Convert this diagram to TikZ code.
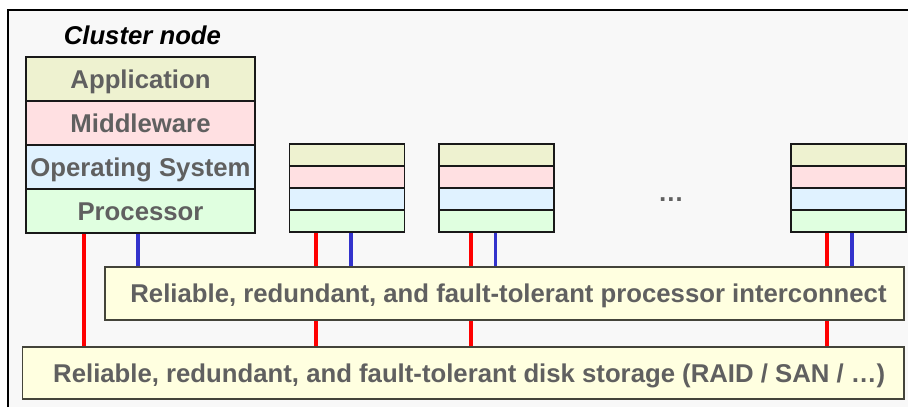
\documentclass[tikz,border=0pt]{standalone}
\usepackage{fontspec}
\setmainfont{Liberation Sans}
\usetikzlibrary{positioning,backgrounds}
\definecolor{appfill}{HTML}{EEF2D0}
\definecolor{midfill}{HTML}{FFE0E2}
\definecolor{osfill}{HTML}{E0F2FF}
\definecolor{cpufill}{HTML}{E0FFE0}
\definecolor{busfill}{HTML}{FFFFE0}
\definecolor{busline}{HTML}{44443A}
\definecolor{bgfill}{HTML}{F8F8F8}
\definecolor{txtgray}{HTML}{606060}
\definecolor{wireblue}{HTML}{3333CC}

\begin{document}
\begin{tikzpicture}[
    layer/.style={draw=black!90, line width=0.9pt, inner sep=0pt, outer sep=0pt, font=\fontsize{18.3}{21}\selectfont\bfseries, text=txtgray, text height=13.1pt, text depth=0pt},
    biglayer/.style={layer, minimum width=5.725cm, minimum height=1.1cm},
    smalllayer/.style={layer, minimum width=2.875cm, minimum height=0.55cm},
    bus/.style={draw=busline, fill=busfill, line width=0.9pt, inner sep=0pt, outer sep=0pt, font=\fontsize{18.3}{21}\selectfont\bfseries, text=txtgray, text height=13.1pt, text depth=0pt},
    redwire/.style={red, line width=2.2pt},
    bluewire/.style={wireblue, line width=2.2pt},
]
\useasboundingbox (0,0) rectangle (22.7,-10.175);

% Cluster node (full stack)
\node[font=\fontsize{18.3}{21}\selectfont\bfseries\itshape, text height=13.1pt, text depth=0pt] (title) at (3.56,-0.88) {Cluster node};
\node[biglayer, fill=appfill, anchor=north] (app1) at (3.5125,-1.425) {Application};
\node[biglayer, fill=midfill, below=0pt of app1] (mid1) {Middleware};
\node[biglayer, fill=osfill, below=0pt of mid1] (os1) {Operating System};
\node[biglayer, fill=cpufill, below=0pt of os1] (cpu1) {Processor};

% Other nodes
\node[smalllayer, fill=appfill, anchor=north] (app2) at (8.675,-3.6) {};
\node[smalllayer, fill=midfill, below=0pt of app2] (mid2) {};
\node[smalllayer, fill=osfill, below=0pt of mid2] (os2) {};
\node[smalllayer, fill=cpufill, below=0pt of os2] (cpu2) {};

\node[smalllayer, fill=appfill, anchor=north] (app3) at (12.4125,-3.6) {};
\node[smalllayer, fill=midfill, below=0pt of app3] (mid3) {};
\node[smalllayer, fill=osfill, below=0pt of mid3] (os3) {};
\node[smalllayer, fill=cpufill, below=0pt of os3] (cpu3) {};

\node[font=\fontsize{18.3}{21}\selectfont\bfseries, text=txtgray] (dots) at (16.775,-4.98) {…};

\node[smalllayer, fill=appfill, anchor=north] (app4) at (21.2125,-3.6) {};
\node[smalllayer, fill=midfill, below=0pt of app4] (mid4) {};
\node[smalllayer, fill=osfill, below=0pt of mid4] (os4) {};
\node[smalllayer, fill=cpufill, below=0pt of os4] (cpu4) {};

% Interconnect and storage
\node[bus, minimum width=19.975cm, minimum height=1.325cm] (net) at (12.6125,-7.3375) {\hspace*{0.2cm}Reliable, redundant, and fault-tolerant processor interconnect};
\node[bus, minimum width=22.04cm, minimum height=1.3cm] (disk) at (11.58,-9.325) {\hspace*{0.3cm}Reliable, redundant, and fault-tolerant disk storage (RAID / SAN / …)};

% Wires
\coordinate (r1) at (2.1,0);    \coordinate (b1) at (3.45,0);
\coordinate (r2) at (7.9,0);    \coordinate (b2) at (8.775,0);
\coordinate (r3) at (11.775,0); \coordinate (b3) at (12.3875,0);
\coordinate (r4) at (20.675,0); \coordinate (b4) at (21.3,0);
\begin{pgfonlayer}{background}
\fill[bgfill] (0.2,-0.25) rectangle (22.7,-10.175);
\draw[line width=1.2pt] (0.2,-10.175) |- (22.7,-0.25);
\draw[redwire] (cpu1.south -| r1) -- (disk.north -| r1);
\draw[bluewire] (cpu1.south -| b1) -- (net.north -| b1);
\draw[redwire] (cpu2.south -| r2) -- (disk.north -| r2);
\draw[bluewire] (cpu2.south -| b2) -- (net.north -| b2);
\draw[redwire] (cpu3.south -| r3) -- (disk.north -| r3);
\draw[bluewire] (cpu3.south -| b3) -- (net.north -| b3);
\draw[redwire] (cpu4.south -| r4) -- (disk.north -| r4);
\draw[bluewire] (cpu4.south -| b4) -- (net.north -| b4);
\end{pgfonlayer}
\end{tikzpicture}
\end{document}
